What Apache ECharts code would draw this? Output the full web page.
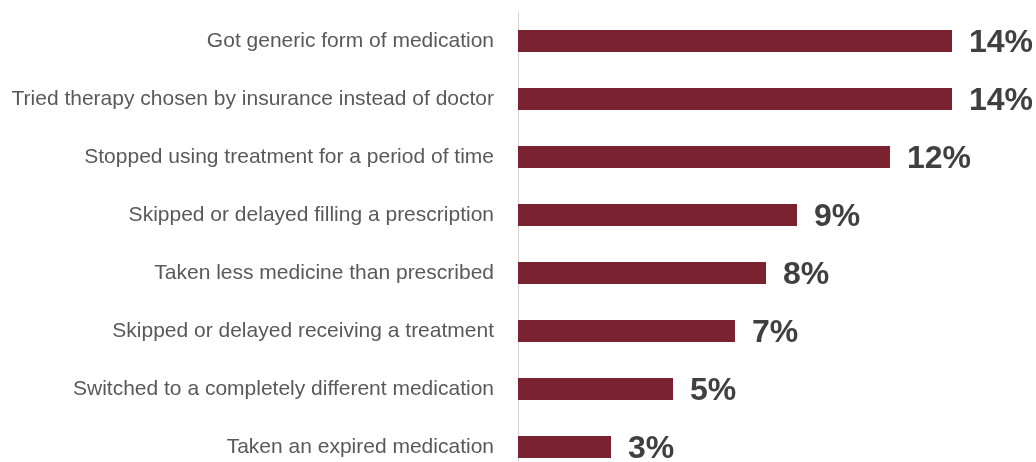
<!DOCTYPE html>
<html><head><meta charset="utf-8">
<script src="https://cdn.jsdelivr.net/npm/echarts@6/dist/echarts.min.js"></script>
<style>html,body{margin:0;padding:0;background:#fff;overflow:hidden}#c{width:1036px;height:462px}</style>
</head><body><div id="c"></div>
<script>
const categories = [
  "Got generic form of medication",
  "Tried therapy chosen by insurance instead of doctor",
  "Stopped using treatment for a period of time",
  "Skipped or delayed filling a prescription",
  "Taken less medicine than prescribed",
  "Skipped or delayed receiving a treatment",
  "Switched to a completely different medication",
  "Taken an expired medication"
];
const values = [14, 14, 12, 9, 8, 7, 5, 3];

const chart = echarts.init(document.getElementById('c'));
chart.setOption({
  animation: false,
  grid: { left: 518, top: 12, width: 496, height: 464, outerBoundsMode: 'none', containLabel: false },
  xAxis: { type: 'value', min: 0, max: 16, show: false },
  yAxis: {
    type: 'category', data: categories, inverse: true,
    axisLine: { show: true, lineStyle: { color: '#d9d9d9', width: 1 } },
    axisTick: { show: false },
    axisLabel: { color: '#595959', fontSize: 21, fontFamily: 'Liberation Sans', margin: 24 }
  },
  series: [{
    type: 'bar', data: values, barWidth: 22,
    itemStyle: { color: '#7b2230' },
    label: { show: true, position: 'right', distance: 17, offset: [0, 2], formatter: '{c}%',
      color: '#404040', fontSize: 32, fontWeight: 'bold', fontFamily: 'Liberation Sans' }
  }]
});
</script></body></html>
